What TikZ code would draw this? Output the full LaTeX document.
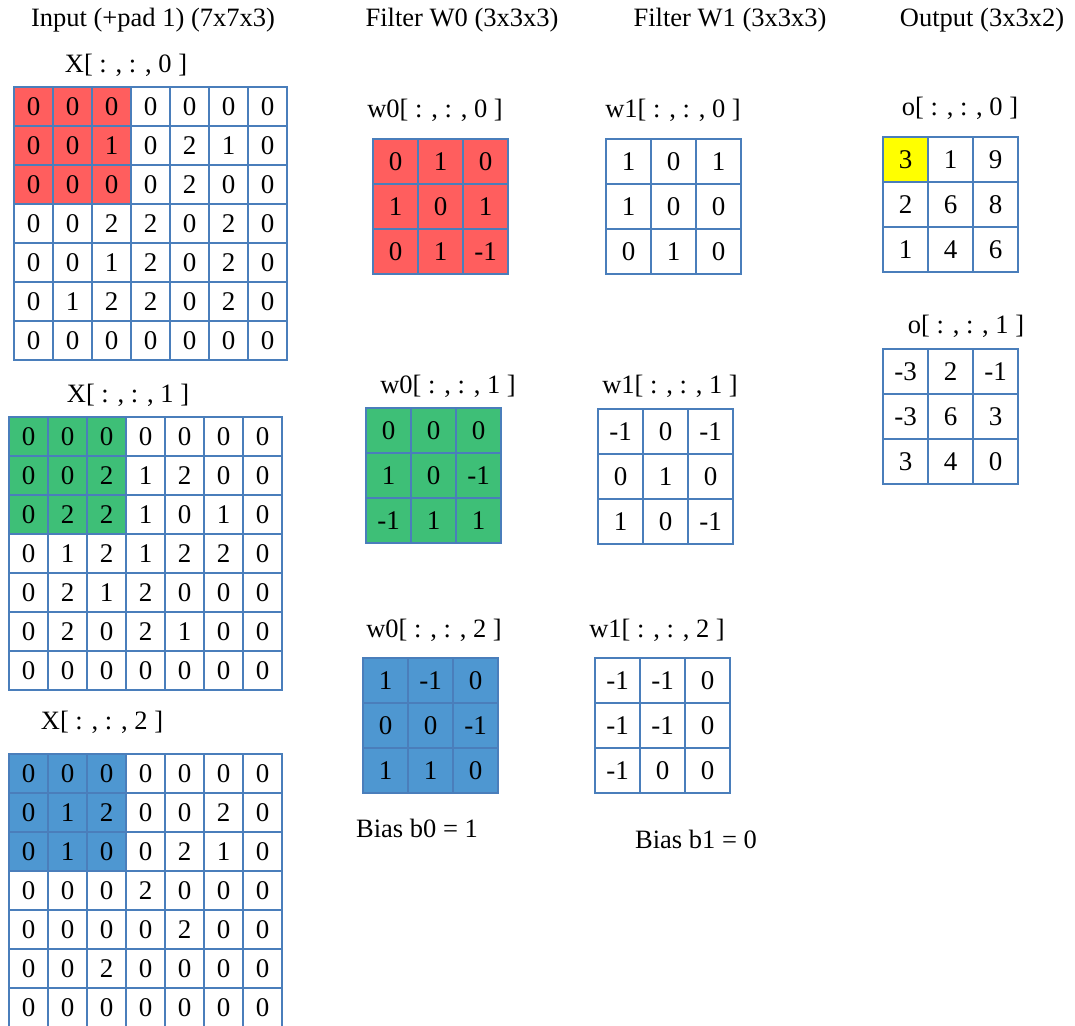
\documentclass[tikz,border=0pt]{standalone}
\usepackage{fontspec}
\setmainfont{Liberation Serif}
\usepackage{xcolor}
\usepackage{tikz}
\usetikzlibrary{positioning}
\definecolor{gridblue}{HTML}{4A7EBB}
\definecolor{chred}{HTML}{FF5E5E}
\definecolor{chgreen}{HTML}{3EBF77}
\definecolor{chblue}{HTML}{4E97D1}
\definecolor{hilite}{HTML}{FFFF00}
\newcommand{\numgrid}[5]{%
  \foreach \row [count=\r] in {#5} {
    \foreach \v [count=\c] in \row {
      \node[cell, minimum size=#4pt] (#1-\r-\c) at ({#2+(\c-0.5)*#4},{#3+(\r-0.5)*#4}) {\v};
    }
  }
}

\begin{document}
\begin{tikzpicture}[x=1pt,y=-1pt,
  cell/.style={draw=gridblue, line width=1.6pt, inner sep=0pt, font=\fontsize{27}{31}\selectfont},
  lbl/.style={anchor=base, inner sep=0pt, font=\fontsize{26.5}{30}\selectfont}]
\useasboundingbox (0,0) rectangle (1075,1025);

% headers
\node[lbl] (hdr-in) at (153,27) {Input (+pad 1) (7x7x3)};
\node[lbl] (hdr-w0) at (462,27) {Filter W0 (3x3x3)};
\node[lbl] (hdr-w1) at (730,27) {Filter W1 (3x3x3)};
\node[lbl] (hdr-out) at (982,27) {Output (3x3x2)};

% input volume
\node[lbl] (lbl-x0) at (126,72) {X[ : , : , 0 ]};
\fill[chred] (14,87) rectangle ++(117,117);
\numgrid{xa}{14}{87}{39}{{0,0,0,0,0,0,0},{0,0,1,0,2,1,0},{0,0,0,0,2,0,0},{0,0,2,2,0,2,0},{0,0,1,2,0,2,0},{0,1,2,2,0,2,0},{0,0,0,0,0,0,0}}

\node[lbl] (lbl-x1) at (128,402) {X[ : , : , 1 ]};
\fill[chgreen] (9,417) rectangle ++(117,117);
\numgrid{xb}{9}{417}{39}{{0,0,0,0,0,0,0},{0,0,2,1,2,0,0},{0,2,2,1,0,1,0},{0,1,2,1,2,2,0},{0,2,1,2,0,0,0},{0,2,0,2,1,0,0},{0,0,0,0,0,0,0}}

\node[lbl] (lbl-x2) at (102,729) {X[ : , : , 2 ]};
\fill[chblue] (9,754) rectangle ++(117,117);
\numgrid{xc}{9}{754}{39}{{0,0,0,0,0,0,0},{0,1,2,0,0,2,0},{0,1,0,0,2,1,0},{0,0,0,2,0,0,0},{0,0,0,0,2,0,0},{0,0,2,0,0,0,0},{0,0,0,0,0,0,0}}

% filter W0
\node[lbl] (lbl-w0a) at (435,117) {w0[ : , : , 0 ]};
\fill[chred] (373,139) rectangle ++(135,135);
\numgrid{wa}{373}{139}{45}{{0,1,0},{1,0,1},{0,1,-1}}

\node[lbl] (lbl-w0b) at (448,393) {w0[ : , : , 1 ]};
\fill[chgreen] (366,408) rectangle ++(135,135);
\numgrid{wb}{366}{408}{45}{{0,0,0},{1,0,-1},{-1,1,1}}

\node[lbl] (lbl-w0c) at (434,637) {w0[ : , : , 2 ]};
\fill[chblue] (363,658) rectangle ++(135,135);
\numgrid{wc}{363}{658}{45}{{1,-1,0},{0,0,-1},{1,1,0}}

\node[lbl] (bias0) at (417,837) {Bias b0 = 1};

% filter W1
\node[lbl] (lbl-w1a) at (673,117) {w1[ : , : , 0 ]};
\numgrid{va}{606}{139}{45}{{1,0,1},{1,0,0},{0,1,0}}

\node[lbl] (lbl-w1b) at (670,393) {w1[ : , : , 1 ]};
\numgrid{vb}{598}{409}{45}{{-1,0,-1},{0,1,0},{1,0,-1}}

\node[lbl] (lbl-w1c) at (657,637) {w1[ : , : , 2 ]};
\numgrid{vc}{595}{658}{45}{{-1,-1,0},{-1,-1,0},{-1,0,0}}

\node[lbl] (bias1) at (696,848) {Bias b1 = 0};

% output volume
\node[lbl] (lbl-o0) at (960,115) {o[ : , : , 0 ]};
\fill[hilite] (883,137) rectangle ++(45,45);
\numgrid{oa}{883}{137}{45}{{3,1,9},{2,6,8},{1,4,6}}

\node[lbl] (lbl-o1) at (966,333) {o[ : , : , 1 ]};
\numgrid{ob}{883}{349}{45}{{-3,2,-1},{-3,6,3},{3,4,0}}
\end{tikzpicture}
\end{document}
